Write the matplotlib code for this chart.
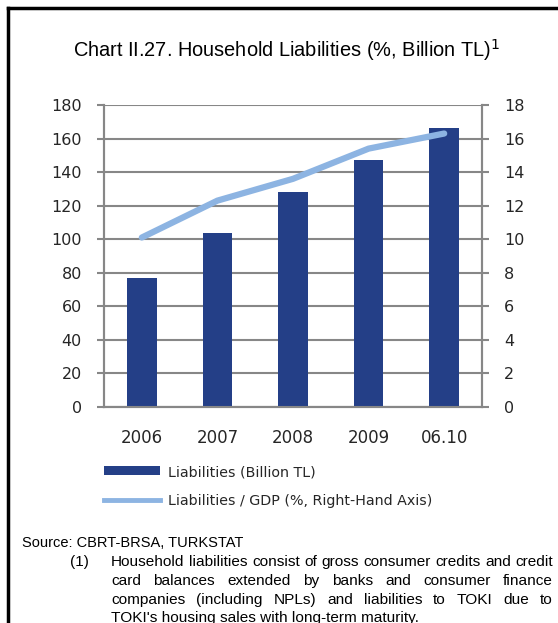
import numpy as np
import matplotlib
matplotlib.use("Agg")
import matplotlib.pyplot as plt
from matplotlib.lines import Line2D
from matplotlib.patches import Patch

# data
periods = ["2006", "2007", "2008", "2009", "06.10"]
liabilities = [77, 104, 128, 147, 166]          # billion TL, left axis
liab_gdp = [10.1, 12.3, 13.6, 15.4, 16.3]       # % of GDP, right axis

bar_col = "#243F87"
line_col = "#8DB4E2"
grid_col = "#878787"
txt_col = "#262626"
fnt = ["Liberation Sans", "DejaVu Sans"]

W, H = 558, 623
fig = plt.figure(figsize=(W / 100, H / 100), dpi=100)
renderer = fig.canvas.get_renderer()

def fx(px):
    return px / W

def fy(py):
    return 1 - py / H

def fit_text(xpx, ypx, s, width_px, ha="left", size=12, **kw):
    # shrink/grow the font so the text spans width_px, like the original
    t = fig.text(fx(xpx), fy(ypx), s, ha=ha, va="center", fontsize=size,
                 family=fnt, **kw)
    w = t.get_window_extent(renderer).width
    t.set_fontsize(size * width_px / w)
    return t

ax = fig.add_axes([fx(104), fy(407), fx(482) - fx(104), fy(105) - fy(407)])
ax2 = ax.twinx()

x = np.arange(len(periods))
ax.bar(x, liabilities, width=0.39, color=bar_col, zorder=3)
ax2.plot(x, liab_gdp, color=line_col, lw=4.5, solid_capstyle="round", zorder=4)

ax.set_xlim(-0.5, len(periods) - 0.5)
ax.set_ylim(0, 180)
ax2.set_ylim(0, 18)
ax.set_yticks(np.arange(0, 181, 20))
ax2.set_yticks(np.arange(0, 19, 2))
ax.set_xticks(x)
ax.set_xticklabels(periods)

ax.yaxis.grid(True, color=grid_col, lw=1.5, zorder=0)
ax.set_axisbelow(True)

for a in (ax, ax2):
    a.spines["top"].set_visible(False)
    for s in ("left", "right", "bottom"):
        a.spines[s].set_color(grid_col)
        a.spines[s].set_linewidth(1.5)
    a.tick_params(axis="y", length=5, width=1.5, color=grid_col,
                  labelsize=11.5, labelcolor=txt_col, pad=11)
ax.tick_params(axis="x", length=0, labelsize=12, labelcolor=txt_col, pad=16)
ax.set_zorder(ax2.get_zorder() - 1)
ax2.patch.set_visible(False)
ax.patch.set_visible(False)

# title
fit_text(287, 50, "Chart II.27. Household Liabilities (%, Billion TL)$^{1}$", 427,
         ha="center", size=15, color="black")

# legend
handles = [Patch(facecolor=bar_col, edgecolor="none"),
           Line2D([0], [0], color=line_col, lw=3.5)]
labels = ["Liabilities (Billion TL)", "Liabilities / GDP (%, Right-Hand Axis)"]
fig.legend(handles, labels, loc="upper left", bbox_to_anchor=(fx(104), fy(465)),
           frameon=False, fontsize=10.3, handlelength=3.9, handleheight=0.6,
           handletextpad=0.55, labelspacing=1.05, labelcolor=txt_col,
           borderpad=0, borderaxespad=0)

# frame around the chart box
fig.add_artist(Line2D([fx(8), 1], [fy(8), fy(8)], color="black", lw=2.5))
fig.add_artist(Line2D([fx(8), fx(8)], [fy(8), 0], color="black", lw=2.5))

# source and footnote
fig.text(fx(22), fy(543), "Source: CBRT-BRSA, TURKSTAT", ha="left", va="center",
         fontsize=10.5, color="black", family=fnt)
fig.text(fx(70), fy(562), "(1)", ha="left", va="center", fontsize=11,
         color="black", family=fnt)

note_lines = [
    "Household liabilities consist of gross consumer credits and credit",
    "card balances extended by banks and consumer finance",
    "companies (including NPLs) and liabilities to TOKI due to",
    "TOKI's housing sales with long-term maturity.",
]
note_y = [562, 581, 600, 618]
left_px, right_px = 111, 553

# font size from the first (full) line
probe = fit_text(left_px, -100, note_lines[0], right_px - left_px, size=12)
note_size = probe.get_fontsize()
probe.remove()

for i, (line, ypx) in enumerate(zip(note_lines, note_y)):
    words = line.split()
    if i == len(note_lines) - 1:
        fig.text(fx(left_px), fy(ypx), line, ha="left", va="center",
                 fontsize=note_size, color="black", family=fnt)
        continue
    arts = [fig.text(0, fy(ypx), w, ha="left", va="center", fontsize=note_size,
                     color="black", family=fnt) for w in words]
    widths = [a.get_window_extent(renderer).width for a in arts]
    gap = (right_px - left_px - sum(widths)) / (len(words) - 1)
    pos = left_px
    for a, wd in zip(arts, widths):
        a.set_x(fx(pos))
        pos += wd + gap

fig.savefig("out.png", dpi=100)
